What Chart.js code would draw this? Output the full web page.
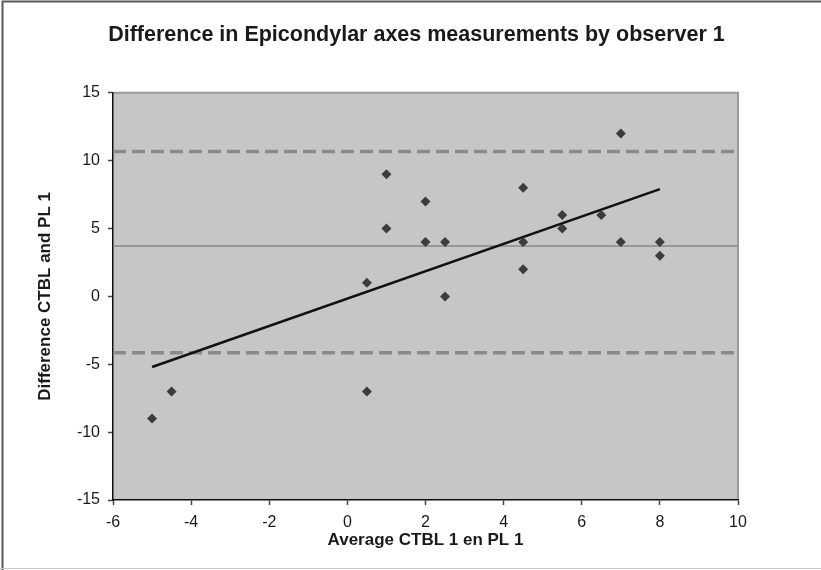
<!DOCTYPE html>
<html>
<head>
<meta charset="utf-8">
<script src="https://cdn.jsdelivr.net/npm/chart.js@4.4.1/dist/chart.umd.min.js"></script>
<style>
  html, body { margin: 0; padding: 0; background: #fff; }
  #wrap { width: 821px; height: 570px; position: relative; }
</style>
</head>
<body>
<div id="wrap"><canvas id="chart"></canvas></div>
<script>
// Observed points (average vs difference)
const averageValues = [-5, -4.5, 0.5, 0.5, 1, 1, 2, 2, 2.5, 2.5, 4.5, 4.5, 4.5, 5.5, 5.5, 6.5, 7, 7, 8, 8];
const differenceValues = [-9, -7, 1, -7, 9, 5, 7, 4, 4, 0, 8, 4, 2, 6, 5, 6, 12, 4, 4, 3];

// Regression line end points
const trendX = [-5, 8];
const trendY = [-5.2, 7.9];

// Mean difference and limits of agreement
const meanDiff = 3.72;
const upperLimit = 10.68;
const lowerLimit = -4.15;

const xTicks = [-6, -4, -2, 0, 2, 4, 6, 8, 10];
const yTicks = [-15, -10, -5, 0, 5, 10, 15];

const FONT = "'Liberation Sans', Arial, sans-serif";

function hLine(value) {
  return [{ x: xTicks[0], y: value }, { x: xTicks[xTicks.length - 1], y: value }];
}

const backgroundPlugin = {
  id: 'background',
  beforeDraw(chart) {
    const { ctx, chartArea: a, width, height } = chart;
    ctx.save();
    ctx.fillStyle = '#fff';
    ctx.fillRect(0, 0, width, height);
    // outer frame
    ctx.strokeStyle = '#5a5a5a';
    ctx.lineWidth = 2;
    ctx.beginPath();
    ctx.moveTo(2.5, height);
    ctx.lineTo(2.5, 1.5);
    ctx.lineTo(width, 1.5);
    ctx.stroke();
    ctx.strokeStyle = '#c8c8c8';
    ctx.lineWidth = 1;
    ctx.beginPath();
    ctx.moveTo(0, height - 1.5);
    ctx.lineTo(width, height - 1.5);
    ctx.stroke();
    // plot area
    ctx.fillStyle = '#c6c6c6';
    ctx.fillRect(a.left, a.top, a.right - a.left, a.bottom - a.top);
    ctx.strokeStyle = '#9a9a9a';
    ctx.lineWidth = 2;
    ctx.beginPath();
    ctx.moveTo(a.left, a.top);
    ctx.lineTo(a.right, a.top);
    ctx.lineTo(a.right, a.bottom);
    ctx.stroke();
    ctx.restore();
  }
};

new Chart(document.getElementById('chart'), {
  type: 'scatter',
  data: {
    datasets: [
      {
        label: 'Upper limit',
        type: 'line',
        data: hLine(upperLimit),
        borderColor: '#8a8a8a',
        borderWidth: 3.5,
        borderDash: [13, 6],
        pointRadius: 0,
        order: 4
      },
      {
        label: 'Lower limit',
        type: 'line',
        data: hLine(lowerLimit),
        borderColor: '#8a8a8a',
        borderWidth: 3.5,
        borderDash: [13, 6],
        pointRadius: 0,
        order: 4
      },
      {
        label: 'Mean',
        type: 'line',
        data: hLine(meanDiff),
        borderColor: '#888',
        borderWidth: 1.5,
        pointRadius: 0,
        order: 3
      },
      {
        label: 'Trend',
        type: 'line',
        data: trendX.map((x, i) => ({ x: x, y: trendY[i] })),
        borderColor: '#111',
        borderWidth: 2.5,
        pointRadius: 0,
        order: 2
      },
      {
        label: 'Difference',
        data: averageValues.map((x, i) => ({ x: x, y: differenceValues[i] })),
        pointStyle: 'rectRot',
        pointRadius: 5,
        pointBackgroundColor: '#3c3c3c',
        pointBorderColor: '#3c3c3c',
        pointBorderWidth: 0,
        order: 1
      }
    ]
  },
  options: {
    responsive: true,
    maintainAspectRatio: false,
    animation: false,
    layout: {
      padding: { left: 12, right: 0, top: 0, bottom: 0 }
    },
    plugins: {
      legend: { display: false },
      tooltip: { enabled: false },
      title: {
        display: true,
        text: 'Difference in Epicondylar axes measurements by observer 1',
        color: '#1a1a1a',
        font: { family: FONT, size: 21.5, weight: 'bold' },
        padding: { top: 22, bottom: 45 }
      }
    },
    scales: {
      x: {
        type: 'linear',
        min: xTicks[0],
        max: xTicks[xTicks.length - 1],
        afterBuildTicks(axis) {
          axis.ticks = xTicks.map(v => ({ value: v }));
        },
        afterFit(axis) {
          axis.height = 70;
        },
        border: { display: true, color: '#111', width: 1.5 },
        grid: { drawOnChartArea: false, drawTicks: true, tickLength: 5, color: '#444', tickWidth: 1.5 },
        ticks: {
          color: '#1a1a1a',
          padding: 8,
          maxRotation: 0,
          font: { family: FONT, size: 16 }
        },
        title: {
          display: true,
          text: 'Average CTBL 1 en PL 1',
          color: '#1a1a1a',
          font: { family: FONT, size: 17, weight: 'bold' },
          padding: { top: 0, bottom: 19 }
        }
      },
      y: {
        type: 'linear',
        min: yTicks[0],
        max: yTicks[yTicks.length - 1],
        afterBuildTicks(axis) {
          axis.ticks = yTicks.map(v => ({ value: v }));
        },
        afterFit(axis) {
          axis.width = 101;
        },
        border: { display: true, color: '#111', width: 1.5 },
        grid: { drawOnChartArea: false, drawTicks: true, tickLength: 5, color: '#444', tickWidth: 1.5 },
        ticks: {
          color: '#1a1a1a',
          padding: 8,
          font: { family: FONT, size: 16 }
        },
        title: {
          display: true,
          text: 'Difference CTBL and PL 1',
          color: '#1a1a1a',
          font: { family: FONT, size: 17, weight: 'bold' },
          padding: { top: 23, bottom: 0 }
        }
      },
      yRight: {
        type: 'linear',
        position: 'right',
        min: 0,
        max: 1,
        afterFit(axis) {
          axis.width = 83;
        },
        border: { display: false },
        grid: { display: false },
        ticks: { display: false }
      }
    }
  },
  plugins: [backgroundPlugin]
});
</script>
</body>
</html>
